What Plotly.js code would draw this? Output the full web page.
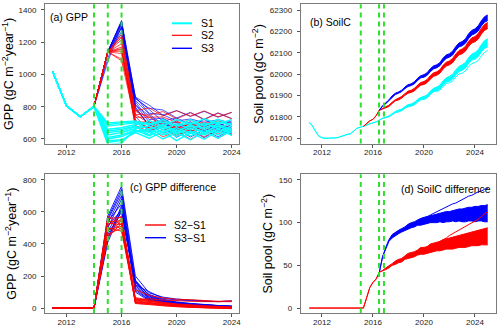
<!DOCTYPE html>
<html>
<head>
<meta charset="utf-8">
<script src="https://cdn.plot.ly/plotly-3.0.1.min.js"></script>
<style>
  html, body { margin: 0; padding: 0; background: #fff; }
  #chart { width: 500px; height: 331px; }
</style>
</head>
<body>
<div id="chart"></div>
<script>
// ---- Data ----
let gppYears = [2011, 2012, 2013, 2014, 2015, 2016, 2017, 2018, 2019, 2020, 2021, 2022, 2023, 2024];

// S1 ensemble members, GPP (gC m-2 year-1)
let gppS1 = [
  [1017, 805, 738, 802, 700, 705, 712, 690, 705, 680, 700, 685, 705, 690],
  [1017, 805, 738, 802, 680, 690, 700, 660, 690, 650, 680, 670, 690, 660],
  [1017, 805, 738, 802, 660, 670, 690, 700, 660, 695, 660, 700, 665, 700],
  [1017, 805, 738, 802, 640, 650, 675, 640, 675, 630, 670, 640, 680, 650],
  [1017, 805, 738, 802, 625, 640, 665, 680, 640, 670, 635, 675, 640, 680],
  [1017, 805, 738, 802, 610, 625, 655, 620, 660, 615, 650, 625, 660, 640],
  [1017, 805, 738, 802, 600, 615, 650, 660, 625, 655, 620, 660, 625, 665],
  [1017, 805, 738, 802, 590, 595, 640, 605, 645, 590, 640, 598, 650, 625],
  [1017, 805, 738, 802, 580, 590, 645, 650, 600, 640, 595, 645, 605, 655],
  [1017, 805, 738, 802, 565, 575, 660, 715, 680, 720, 690, 725, 695, 720],
  [1017, 805, 738, 802, 690, 700, 705, 690, 720, 680, 720, 680, 722, 685],
  [1017, 805, 738, 802, 650, 660, 680, 625, 690, 640, 690, 630, 695, 620]
];

// S2-S1 per member
let gppDiffS2 = [
  [0, 0, 0, 0, 440, 530, 60, 45, 32, 22, 15, 10, 6, 4],
  [0, 0, 0, 0, 460, 500, 50, 40, 28, 18, 12, 8, 4, 2],
  [0, 0, 0, 0, 480, 560, 45, 35, 25, 16, 10, 6, 3, 1],
  [0, 0, 0, 0, 500, 480, 40, 30, 20, 12, 8, 4, 1, -1],
  [0, 0, 0, 0, 515, 575, 35, 28, 18, 10, 6, 3, 0, -2],
  [0, 0, 0, 0, 530, 520, 30, 25, 15, 9, 5, 2, 0, -3],
  [0, 0, 0, 0, 540, 545, 55, 42, 30, 20, 14, 9, 5, 3],
  [0, 0, 0, 0, 550, 490, 65, 50, 36, 26, 20, 15, 10, 8],
  [0, 0, 0, 0, 560, 565, 28, 20, 13, 8, 4, 2, -1, -4],
  [0, 0, 0, 0, 575, 520, 115, 78, 63, 55, 52, 49, 42, 45],
  [0, 0, 0, 0, 450, 550, 48, 58, 50, 45, 42, 40, 38, 40],
  [0, 0, 0, 0, 490, 510, 38, 33, 22, 14, 9, 5, 2, 0]
];

// S3-S1 per member
let gppDiffS3 = [
  [0, 0, 0, 0, 440, 610, 150, 70, 45, 32, 24, 18, 14, 10],
  [0, 0, 0, 0, 460, 600, 130, 60, 40, 28, 20, 15, 10, 7],
  [0, 0, 0, 0, 480, 620, 165, 80, 50, 36, 27, 20, 15, 12],
  [0, 0, 0, 0, 500, 680, 110, 50, 33, 22, 15, 11, 7, 5],
  [0, 0, 0, 0, 515, 610, 175, 75, 48, 33, 25, 19, 13, 10],
  [0, 0, 0, 0, 530, 700, 140, 65, 42, 30, 22, 16, 11, 8],
  [0, 0, 0, 0, 540, 650, 160, 85, 55, 38, 29, 22, 16, 13],
  [0, 0, 0, 0, 550, 720, 100, 45, 30, 20, 14, 10, 6, 4],
  [0, 0, 0, 0, 560, 740, 170, 55, 36, 24, 17, 12, 8, 5],
  [0, 0, 0, 0, 575, 760, 200, 95, 68, 56, 50, 46, 40, 45],
  [0, 0, 0, 0, 410, 615, 145, 100, 60, 50, 45, 42, 40, 42],
  [0, 0, 0, 0, 430, 640, 120, 52, 35, 25, 18, 13, 9, 6]
];

// quarterly time axis for soil carbon
let soilTime = [
  2011, 2011.25, 2011.5, 2011.75, 2012, 2012.25, 2012.5, 2012.75,
  2013, 2013.25, 2013.5, 2013.75, 2014, 2014.25, 2014.5, 2014.75,
  2015, 2015.25, 2015.5, 2015.75, 2016, 2016.25, 2016.5, 2016.75,
  2017, 2017.25, 2017.5, 2017.75, 2018, 2018.25, 2018.5, 2018.75,
  2019, 2019.25, 2019.5, 2019.75, 2020, 2020.25, 2020.5, 2020.75,
  2021, 2021.25, 2021.5, 2021.75, 2022, 2022.25, 2022.5, 2022.75,
  2023, 2023.25, 2023.5, 2023.75, 2024, 2024.25, 2024.5, 2024.75,
  2025
];

// Soil pool S1 envelope (gC m-2)
let soilS1Low = [
  61775, 61758, 61733, 61710, 61703, 61700, 61701, 61700,
  61702, 61704, 61709, 61716, 61719, 61722, 61734, 61748,
  61752, 61756, 61762, 61768, 61772, 61777, 61786, 61794,
  61796, 61801, 61810, 61820, 61824, 61829, 61840, 61848,
  61851, 61857, 61870, 61880, 61882, 61890, 61905, 61918,
  61922, 61931, 61949, 61963, 61968, 61978, 61997, 62013,
  62018, 62029, 62050, 62066, 62071, 62082, 62104, 62121,
  62128
];
let soilS1High = [
  61775, 61758, 61733, 61710, 61703, 61700, 61701, 61700,
  61702, 61704, 61709, 61716, 61719, 61722, 61734, 61748,
  61752, 61756, 61762, 61768, 61772, 61777, 61786, 61794,
  61800, 61805, 61816, 61826, 61832, 61837, 61848, 61858,
  61861, 61869, 61882, 61892, 61896, 61904, 61921, 61934,
  61940, 61949, 61969, 61983, 61990, 62000, 62021, 62037,
  62044, 62055, 62078, 62094, 62101, 62114, 62138, 62157,
  62166
];
// a low S1 member, from 2021
let soilS1Stray = [
  61918, 61926, 61943, 61956, 61960, 61969, 61987, 62001,
  62005, 62015, 62035, 62050, 62054, 62064, 62085, 62102, 62112
];

// S2 envelope from 2015.25
let soilS2Low = [
  61756, 61770, 61782, 61789, 61806, 61831, 61836,
  61841, 61849, 61863, 61875, 61880, 61888, 61901, 61911,
  61915, 61922, 61937, 61949, 61952, 61961, 61977, 61990,
  61995, 62005, 62024, 62038, 62044, 62054, 62075, 62091,
  62096, 62108, 62130, 62146, 62152, 62164, 62188, 62205,
  62214
];
let soilS2High = [
  61756, 61770, 61782, 61789, 61806, 61833, 61840,
  61845, 61855, 61869, 61881, 61888, 61896, 61909, 61921,
  61925, 61934, 61949, 61961, 61966, 61975, 61993, 62006,
  62011, 62021, 62042, 62056, 62062, 62074, 62095, 62111,
  62118, 62130, 62154, 62170, 62176, 62190, 62214, 62233,
  62242
];

// S3 envelope from 2016.5
let soilS3Low = [
  61832, 61851,
  61862, 61876, 61893, 61905, 61911, 61919, 61932, 61943,
  61947, 61955, 61971, 61983, 61986, 61995, 62012, 62025,
  62030, 62040, 62060, 62074, 62080, 62090, 62112, 62128,
  62133, 62145, 62167, 62183, 62190, 62202, 62226, 62243,
  62251
];
let soilS3High = [
  61832, 61853,
  61866, 61880, 61899, 61911, 61917, 61925, 61940, 61951,
  61955, 61965, 61981, 61993, 61998, 62007, 62026, 62039,
  62044, 62054, 62076, 62090, 62096, 62108, 62130, 62146,
  62153, 62165, 62189, 62205, 62212, 62226, 62250, 62269,
  62277
];

// Soil pool difference S2-S1 envelope (full period)
let soilDiffS2Low = [
  0, 0, 0, 0, 0, 0, 0, 0, 0, 0, 0, 0, 0, 0, 0, 0, 0, 0,
  12, 24, 30, 34, 42, 44,
  45, 47, 50, 51, 53, 54, 57, 58, 59, 60, 62, 63, 63, 64, 65, 66,
  67, 67, 68, 69, 69, 69, 70, 71, 71, 71, 72, 73, 73, 73, 74, 74, 74
];
let soilDiffS2High = [
  0, 0, 0, 0, 0, 0, 0, 0, 0, 0, 0, 0, 0, 0, 0, 0, 0, 0,
  12, 24, 30, 34, 42, 44,
  47, 49, 52, 55, 57, 58, 61, 64, 65, 66, 68, 71, 71, 72, 75, 76,
  77, 78, 80, 81, 82, 83, 84, 85, 86, 87, 88, 89, 90, 91, 92, 93, 94
];
// stray S2-S1 member from 2019.5
let soilDiffS2Stray = [65, 67, 68, 70, 72, 74, 76, 78, 80, 82, 85, 87, 89, 91, 93, 95, 98, 100, 102, 104, 107, 110, 113];

// S3-S1 envelope from 2016.5
let soilDiffS3Low = [
  42, 60, 69, 78, 82, 85, 87, 89, 91, 92, 94, 95, 97, 97, 98, 99, 100, 100,
  100, 101, 100, 101, 101, 102, 101, 102, 101, 101, 102, 102, 101, 102, 102, 101, 101
];
let soilDiffS3High = [
  42, 60, 71, 80, 86, 89, 91, 93, 95, 98, 100, 101, 103, 105, 106, 107, 108, 109,
  110, 111, 112, 113, 113, 114, 115, 116, 116, 117, 118, 118, 119, 119, 120, 120, 121
];
let soilDiffS3Stray = [103, 104, 106, 107, 109, 111, 113, 114, 116, 118, 120, 122, 123, 125, 127, 129, 131, 132, 134, 136, 137, 139, 140];

// start of treatment periods (dashed lines)
let gppEvents = [2014, 2015, 2016];
let soilEvents = [2015.04, 2016.47, 2016.86];

let gppLegend = ["S1", "S2", "S3"];
let diffLegend = ["S2\u2212S1", "S3\u2212S1"];

// ---- Styles ----
let CYAN = "#00ffff";
let RED = "#ff0000";
let BLUE = "#0000ff";
let RED_T = "rgba(255,0,0,0.8)";
let BLUE_T = "rgba(0,0,255,0.75)";
let GREEN = "#2ee02e";
let FONT = "Liberation Sans, Arial, sans-serif";
let W = 500, H = 331;

function px(x) { return x / W; }
function py(y) { return 1 - y / H; }

function memberLine(x, y, color, xa, ya, width) {
  return {
    x: x, y: y, type: "scatter", mode: "lines",
    line: { color: color, width: width || 1 },
    xaxis: xa, yaxis: ya, showlegend: false, hoverinfo: "skip"
  };
}

function band(x, lo, hi, color, xa, ya) {
  return [
    memberLine(x, lo, color, xa, ya, 1),
    Object.assign(memberLine(x, hi, color, xa, ya, 1), { fill: "tonexty", fillcolor: color })
  ];
}

function createGppPanel(traces) {
  // S3 first, then S2, S1 on top
  gppS1.forEach(function (s1, i) {
    let s3 = s1.map(function (v, j) { return v + gppDiffS3[i][j]; });
    traces.push(memberLine(gppYears, s3, BLUE_T, "x", "y", 0.9));
  });
  gppS1.forEach(function (s1, i) {
    let s2 = s1.map(function (v, j) { return v + gppDiffS2[i][j]; });
    traces.push(memberLine(gppYears, s2, RED_T, "x", "y", 0.9));
  });
  gppS1.forEach(function (s1) {
    traces.push(memberLine(gppYears, s1, CYAN, "x", "y", 1.4));
  });
}

function createSoilPanel(traces) {
  let t2 = soilTime.slice(17);
  let t3 = soilTime.slice(22);
  band(soilTime, soilS1Low, soilS1High, CYAN, "x2", "y2").forEach(function (t) { traces.push(t); });
  traces.push(memberLine(soilTime.slice(40), soilS1Stray, CYAN, "x2", "y2", 1));
  band(t2, soilS2Low, soilS2High, RED, "x2", "y2").forEach(function (t) { traces.push(t); });
  band(t3, soilS3Low, soilS3High, BLUE, "x2", "y2").forEach(function (t) { traces.push(t); });
}

function createGppDiffPanel(traces) {
  gppDiffS3.forEach(function (d) {
    traces.push(memberLine(gppYears, d, BLUE, "x3", "y3", 0.9));
  });
  gppDiffS2.forEach(function (d) {
    traces.push(memberLine(gppYears, d, RED, "x3", "y3", 0.9));
  });
}

function createSoilDiffPanel(traces) {
  let t3 = soilTime.slice(22);
  let tStray = soilTime.slice(34);
  band(t3, soilDiffS3Low, soilDiffS3High, BLUE, "x4", "y4").forEach(function (t) { traces.push(t); });
  traces.push(memberLine(tStray, soilDiffS3Stray, BLUE, "x4", "y4", 1));
  band(soilTime, soilDiffS2Low, soilDiffS2High, RED, "x4", "y4").forEach(function (t) { traces.push(t); });
  traces.push(memberLine(tStray, soilDiffS2Stray, RED, "x4", "y4", 1));
}

function axis(extra) {
  return Object.assign({
    showline: true, mirror: true, linecolor: "#7a7a7a", linewidth: 1,
    ticks: "outside", ticklen: 3, tickwidth: 1, tickcolor: "#555",
    showgrid: false, zeroline: false, fixedrange: true,
    tickformat: "d",
    tickfont: { family: FONT, size: 8, color: "#222" },
    ticklabelstandoff: 3
  }, extra);
}

function xAxis(extra) {
  return axis(Object.assign({ tickmode: "linear", tick0: 2012, dtick: 4, ticklabelstandoff: -2 }, extra));
}

function yTitle(text) {
  return { text: text, font: { family: FONT, size: 12.5, color: "#000" }, standoff: 3 };
}

function eventLines(years, xa, ya) {
  return years.map(function (yr) {
    return {
      type: "line", xref: xa, yref: ya + " domain", x0: yr, x1: yr, y0: 0, y1: 1,
      line: { color: GREEN, width: 2, dash: "5px,4px" }, layer: "above"
    };
  });
}

function legendItems(names, colors, widths, x0, x1, xText, ys) {
  let shapes = [], notes = [];
  names.forEach(function (name, i) {
    shapes.push({
      type: "line", xref: "paper", yref: "paper",
      x0: px(x0), x1: px(x1), y0: py(ys[i]), y1: py(ys[i]),
      line: { color: colors[i], width: widths[i] }
    });
    notes.push({
      text: name, xref: "paper", yref: "paper", x: px(xText), y: py(ys[i]),
      xanchor: "left", yanchor: "middle", showarrow: false,
      font: { family: FONT, size: 10.5, color: "#000" }
    });
  });
  return { shapes: shapes, notes: notes };
}

function panelLabel(text, x, y) {
  return {
    text: text, xref: "paper", yref: "paper", x: px(x), y: py(y),
    xanchor: "left", yanchor: "middle", showarrow: false,
    font: { family: FONT, size: 10.5, color: "#000" }
  };
}

function init() {
  let traces = [];
  createGppPanel(traces);
  createSoilPanel(traces);
  createGppDiffPanel(traces);
  createSoilDiffPanel(traces);

  let legA = legendItems(gppLegend, [CYAN, RED, BLUE], [2, 1.2, 1.4], 172, 192, 199, [23.3, 35.3, 48.3]);
  let legC = legendItems(diffLegend, [RED, BLUE], [1.4, 1.4], 145, 166, 172, [225, 237.7]);

  let gppTitle = "GPP (gC m<sup>\u22122</sup>year<sup>\u22121</sup>)";
  let soilTitle = "Soil pool (gC m<sup>\u22122</sup>)";

  let layout = {
    width: W, height: H,
    margin: { l: 0, r: 0, t: 0, b: 0 },
    paper_bgcolor: "#fff", plot_bgcolor: "#fff",
    showlegend: false,
    font: { family: FONT },
    xaxis: xAxis({ domain: [px(45), px(239.3)], anchor: "y", range: [2010.44, 2024.55] }),
    yaxis: axis({ domain: [py(143.5), py(4.3)], anchor: "x", range: [572, 1435], tickmode: "linear", tick0: 600, dtick: 200, title: yTitle(gppTitle) }),
    xaxis2: xAxis({ domain: [px(300.7), px(495.5)], anchor: "y2", range: [2010.33, 2025.61] }),
    yaxis2: axis({ domain: [py(143.5), py(4.3)], anchor: "x2", range: [61676, 62327], tickmode: "linear", tick0: 61700, dtick: 100, title: yTitle(soilTitle) }),
    xaxis3: xAxis({ domain: [px(45), px(239.3)], anchor: "y3", range: [2010.44, 2024.55] }),
    yaxis3: axis({ domain: [py(313), py(174.3)], anchor: "x3", range: [-31, 835], tickmode: "linear", tick0: 0, dtick: 200, title: yTitle(gppTitle) }),
    xaxis4: xAxis({ domain: [px(300.7), px(495.5)], anchor: "y4", range: [2010.33, 2025.61] }),
    yaxis4: axis({ domain: [py(313), py(174.3)], anchor: "x4", range: [-5.8, 156.6], tickmode: "linear", tick0: 0, dtick: 50, title: yTitle(soilTitle) }),
    shapes: [].concat(
      eventLines(gppEvents, "x", "y"),
      eventLines(soilEvents, "x2", "y2"),
      eventLines(gppEvents, "x3", "y3"),
      eventLines(soilEvents, "x4", "y4"),
      legA.shapes, legC.shapes
    ),
    annotations: [
      panelLabel("(a) GPP", 48, 17.5),
      panelLabel("(b) SoilC", 308, 22),
      panelLabel("(c) GPP difference", 128, 187),
      panelLabel("(d) SoilC difference", 399, 188.7)
    ].concat(legA.notes, legC.notes)
  };

  Plotly.newPlot("chart", traces, layout, { staticPlot: true, displayModeBar: false });
}

init();
</script>
</body>
</html>
